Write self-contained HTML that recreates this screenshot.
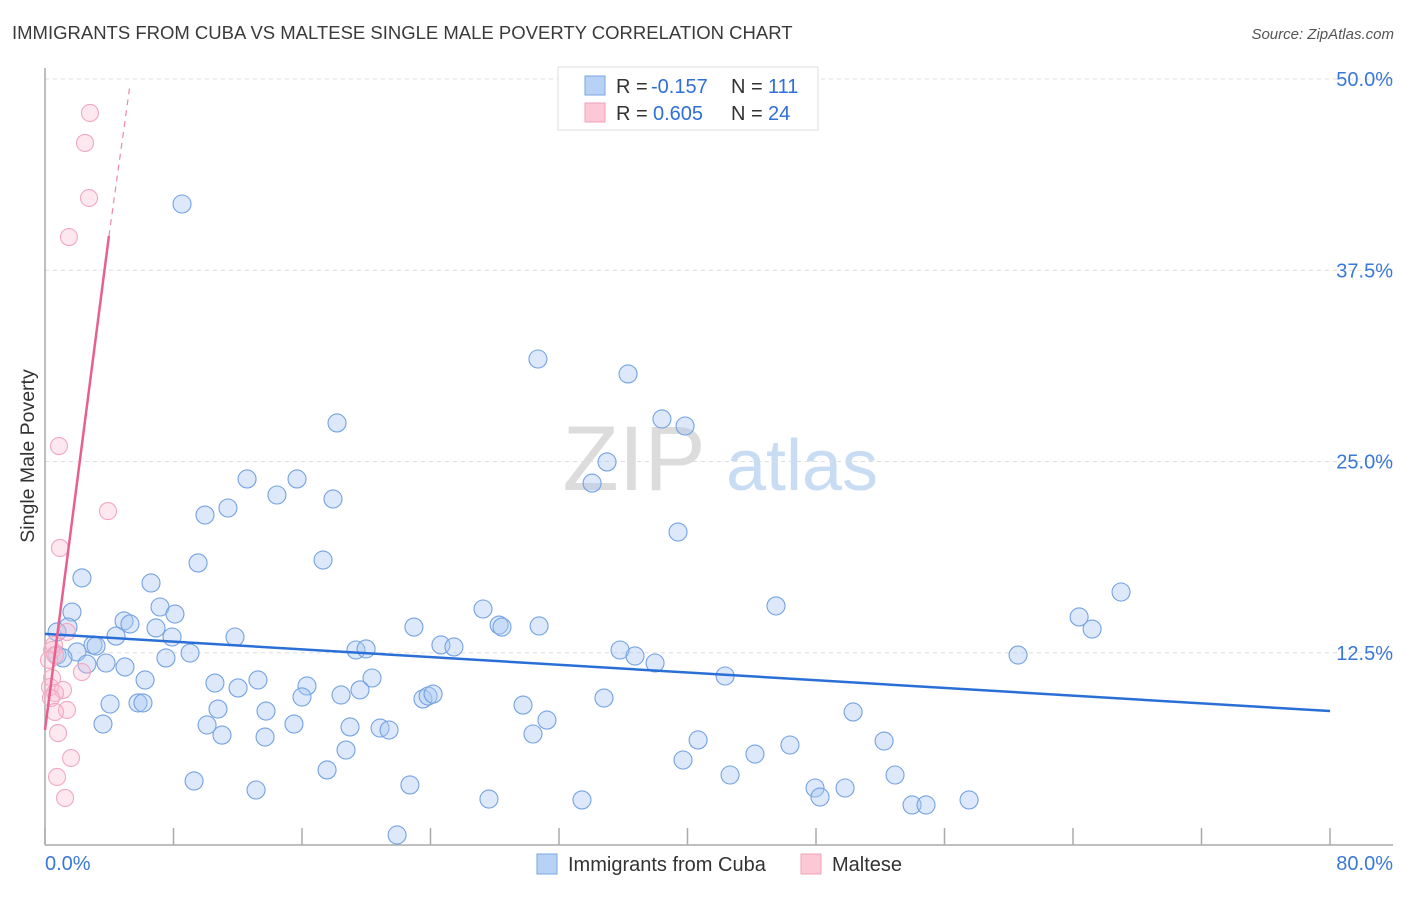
<!DOCTYPE html>
<html><head><meta charset="utf-8"><style>
body{margin:0;background:#fff;font-family:"Liberation Sans",sans-serif;}
svg text{font-family:"Liberation Sans",sans-serif;}
</style></head><body>
<svg id="chart" width="1406" height="892" xmlns="http://www.w3.org/2000/svg">
<text x="12" y="39" font-size="18.5" fill="#3a3a3a">IMMIGRANTS FROM CUBA VS MALTESE SINGLE MALE POVERTY CORRELATION CHART</text>
<text x="1394" y="39" font-size="15" fill="#555" font-style="italic" text-anchor="end">Source: ZipAtlas.com</text>
<g>
<text x="634" y="490" font-size="92" fill="#dcdcdc" text-anchor="middle" font-family="Liberation Serif">ZIP</text>
<text x="802" y="490" font-size="72" fill="#c8dcf3" text-anchor="middle">atlas</text>
</g>
<g id="grid"></g>
<g id="axes"></g>
<g id="marks"></g>
<text transform="translate(34,456) rotate(-90)" font-size="19.5" fill="#333" text-anchor="middle">Single Male Poverty</text>
<g>
<rect x="558" y="67" width="260" height="63" fill="#fff" stroke="#ddd"/>
<rect x="585" y="76" width="20" height="19" fill="#b8d2f5" stroke="#7aa6e3"/>
<rect x="585" y="103" width="20" height="19" fill="#fcc8d6" stroke="#f0a0b8"/>
<text x="616" y="93" font-size="20" fill="#333">R =</text>
<text x="651" y="93" font-size="20" fill="#2f6fd6">-0.157</text>
<text x="731" y="93" font-size="20" fill="#333">N =</text>
<text x="768" y="93" font-size="20" fill="#2f6fd6">111</text>
<text x="616" y="120" font-size="20" fill="#333">R =</text>
<text x="653" y="120" font-size="20" fill="#2f6fd6">0.605</text>
<text x="731" y="120" font-size="20" fill="#333">N =</text>
<text x="768" y="120" font-size="20" fill="#2f6fd6">24</text>
</g>
<g>
<rect x="537" y="854" width="20" height="20" fill="#b8d2f5" stroke="#7aa6e3"/>
<text x="568" y="871" font-size="20" fill="#333">Immigrants from Cuba</text>
<rect x="801" y="854" width="20" height="20" fill="#fcc8d6" stroke="#f0a0b8"/>
<text x="832" y="871" font-size="20" fill="#333">Maltese</text>
</g>
</svg>
<script>
const blueX=[8.53,30.69,36.30,18.18,38.41,39.85,34.99,34.06,12.58,15.69,14.44,17.93,11.39,9.96,39.41,9.53,17.31,2.30,6.60,66.99,45.51,7.16,1.68,8.09,27.27,64.38,65.19,4.92,5.29,1.43,6.91,28.27,28.45,30.76,22.97,0.75,4.42,7.91,11.83,2.99,3.18,24.65,25.46,19.36,19.99,35.80,36.73,1.99,9.03,0.75,1.12,60.58,7.53,2.61,3.80,4.98,37.98,6.23,13.26,20.36,42.34,10.58,16.31,12.02,19.61,16.00,18.43,23.53,23.85,24.16,34.80,4.05,5.79,6.10,10.77,13.76,29.76,50.31,31.25,10.09,15.50,18.99,3.61,20.86,21.42,11.02,13.70,30.38,40.66,52.24,46.38,44.20,18.74,39.72,17.56,42.65,52.92,9.28,22.72,13.14,47.94,49.81,48.25,27.64,33.43,57.53,53.98,54.85,21.92];
const blueY=[41.83,31.70,30.72,27.52,27.78,27.32,24.97,23.59,23.86,23.86,22.81,22.55,21.96,21.50,20.39,18.37,18.56,17.39,17.06,16.47,15.56,15.49,15.16,15.03,15.36,14.84,14.05,14.58,14.38,14.18,14.12,14.31,14.18,14.25,14.18,13.86,13.59,13.53,13.53,13.01,12.94,13.01,12.88,12.68,12.75,12.68,12.29,12.55,12.48,12.35,12.16,12.35,12.16,11.76,11.83,11.57,11.83,10.72,10.72,10.85,10.98,10.52,10.33,10.20,10.07,9.61,9.74,9.48,9.67,9.80,9.54,9.15,9.22,9.22,8.82,8.69,9.08,8.63,8.10,7.78,7.84,7.65,7.84,7.58,7.45,7.12,6.99,7.19,6.80,6.73,6.47,5.88,6.14,5.49,4.84,4.51,4.51,4.12,3.86,3.53,3.66,3.66,3.07,2.94,2.88,2.88,2.55,2.55,0.59];
const pinkX=[2.80,2.49,2.74,1.49,0.87,3.92,0.93,1.37,0.56,0.44,0.62,0.25,2.30,0.44,0.31,1.12,0.62,0.37,1.37,0.62,0.81,1.62,0.75,1.25];
const pinkY=[47.78,45.82,42.22,39.67,26.01,21.76,19.35,13.86,13.01,12.68,12.35,12.03,11.24,10.85,10.26,10.07,9.87,9.54,8.76,8.63,7.25,5.62,4.38,3.01];
const blueTrend=[13.73,8.69];
const pinkTrend=[7.45,39.74,49.6];
const pinkTrendX=[0,3.98,5.29];
const yTicks=[12.5,25,37.5,50];
const yTickLabels=["12.5%","25.0%","37.5%","50.0%"];
const xTicks=[0,8,16,24,32,40,48,56,64,72,80];
const xLabels=[[0,"0.0%"],[80,"80.0%"]];

const NS="http://www.w3.org/2000/svg";
const X0=45,X1=1330,Y0=844,YPX=15.3;
function sx(v){return X0+(X1-X0)*v/80;}
function sy(v){return Y0-v*YPX;}
function mk(tag,attrs,parent){const e=document.createElementNS(NS,tag);for(const k in attrs)e.setAttribute(k,attrs[k]);parent.appendChild(e);return e;}
const grid=document.getElementById('grid'),axes=document.getElementById('axes'),marks=document.getElementById('marks');
yTicks.forEach((t,i)=>{
 const l=mk('line',{x1:45,x2:1393,y1:sy(t),y2:sy(t),stroke:'#ddd','stroke-dasharray':'4,4'},grid);
 
 
 const tx=mk('text',{x:1393,y:sy(t)+7,'font-size':20,fill:'#3a78d8','text-anchor':'end'},axes);
 tx.textContent=yTickLabels[i];
 
 
});
const ya=mk('line',{x1:45,x2:45,y1:68,y2:845,stroke:'#aaa','stroke-width':1.5},axes);


const xa=mk('line',{x1:45,x2:1393,y1:845,y2:845,stroke:'#aaa','stroke-width':1.5},axes);


xTicks.forEach(t=>{
 const l=mk('line',{x1:sx(t),x2:sx(t),y1:828,y2:845,stroke:'#aaa','stroke-width':1.5},axes);
 
 
});
xLabels.forEach(([v,s])=>{
 const tx=mk('text',{x:v===0?sx(v):1393,y:870,'font-size':20,fill:'#3a78d8','text-anchor':v===0?'start':'end'},axes);
 tx.textContent=s;
 
 
});
blueX.forEach((x,i)=>{
 const c=mk('circle',{cx:sx(x),cy:sy(blueY[i]),r:9,fill:'rgba(170,200,242,0.4)',stroke:'#74a2e2','stroke-width':1.1},marks);
 
 
});
pinkX.forEach((x,i)=>{
 const c=mk('circle',{cx:sx(x),cy:sy(pinkY[i]),r:8.5,fill:'rgba(250,190,210,0.35)',stroke:'#f2a8bf','stroke-width':1.1},marks);
 
 
});
const bt=mk('line',{x1:sx(0),y1:sy(blueTrend[0]),x2:sx(80),y2:sy(blueTrend[1]),stroke:'#2a6fd6','stroke-width':2.5},marks);


const pt=mk('line',{x1:sx(pinkTrendX[0]),y1:sy(pinkTrend[0]),x2:sx(pinkTrendX[1]),y2:sy(pinkTrend[1]),stroke:'#e8608e','stroke-width':2.5},marks);


const pd=mk('line',{x1:sx(pinkTrendX[1]),y1:sy(pinkTrend[1]),x2:sx(pinkTrendX[2]),y2:sy(pinkTrend[2]),stroke:'#eb8aab','stroke-width':1.2,'stroke-dasharray':'6,5'},marks);


</script>
</body></html>
